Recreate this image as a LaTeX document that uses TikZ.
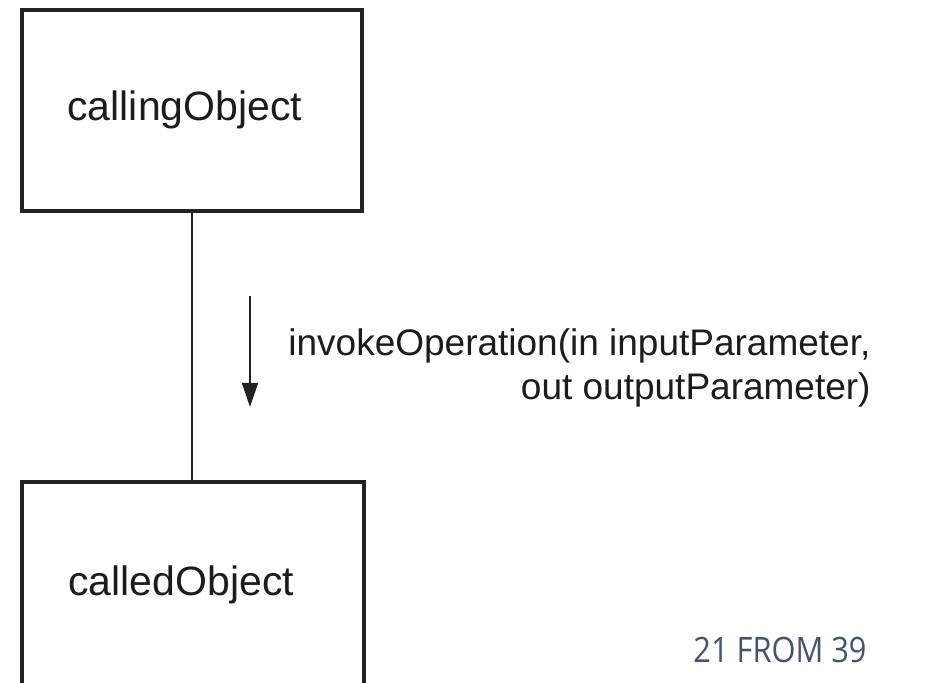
\documentclass[tikz,border=0pt]{standalone}
\usepackage{fontspec}
\setmainfont{Liberation Sans}
\newfontfamily\footerfont[FakeStretch=0.88]{Open Sans}
\usetikzlibrary{arrows.meta}
\definecolor{inkline}{HTML}{222222}
\definecolor{inktext}{HTML}{1C1C1C}
\definecolor{pagefoot}{HTML}{44546A}
\tikzset{
  objbox/.style={draw=inkline, line width=1.6pt, fill=white, inner sep=0pt},
  objname/.style={text=inktext, inner sep=0pt, font=\fontsize{20.5}{24}\selectfont},
  msgtext/.style={text=inktext, inner sep=0pt, font=\fontsize{18.5}{22}\selectfont},
  link/.style={draw=inkline, line width=1pt},
  msgarrow/.style={draw=inkline, line width=0.75pt, -{Triangle[length=12pt, width=8pt]}},
  pagenum/.style={text=pagefoot, inner sep=0pt, font=\footerfont\fontsize{17.5}{21}\selectfont}
}
\begin{document}
\begin{tikzpicture}[x=0.5pt, y=-0.5pt]
  \useasboundingbox[fill=white] (0,0) rectangle (948,683);

  % the two objects
  \node[objbox, minimum width=170pt, minimum height=100.5pt] (caller) at (192,110.5) {};
  \node[objbox, minimum width=171pt, minimum height=110pt] (callee) at (193,592) {};
  \node[objname, anchor=base west] (callerName) at (67,121) {callingObject};
  \node[objname, anchor=base west] (calleeName) at (68,596) {calledObject};

  % link between the objects
  \draw[link] (caller.south) -- (caller.south |- callee.north);

  % the message sent along the link
  \coordinate (msgStart) at (250,296);
  \coordinate (msgEnd) at (250,407);
  \draw[msgarrow] (msgStart) -- (msgEnd);
  \node[msgtext, anchor=base west] (msgLineA) at (288,356) {invokeOperation(in inputParameter,};
  \node[msgtext, anchor=base east] (msgLineB) at (871,400) {out outputParameter)};

  % page counter
  \node[pagenum, anchor=base west] (pageNo) at (693,662) {21 FROM 39};
\end{tikzpicture}
\end{document}
